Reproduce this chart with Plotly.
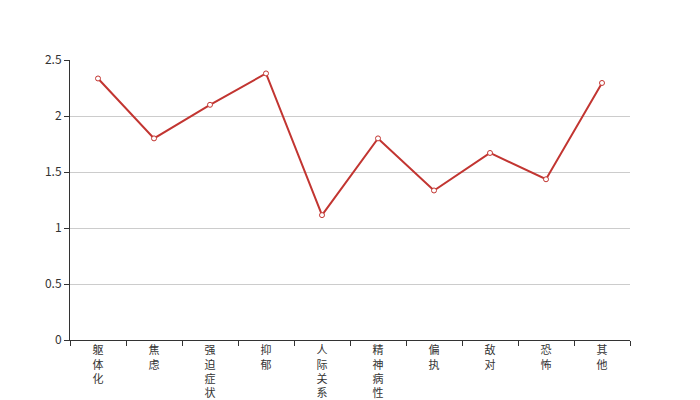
import plotly.graph_objects as go

categories = ["躯体化", "焦虑", "强迫症状", "抑郁", "人际关系", "精神病性", "偏执", "敌对", "恐怖", "其他"]
scores = [2.335, 1.80, 2.10, 2.38, 1.115, 1.80, 1.335, 1.67, 1.435, 2.295]

# vertical labels: one character per line
tick_text = ["<br>".join(list(c)) for c in categories]

fig = go.Figure()
fig.add_trace(
    go.Scatter(
        x=categories,
        y=scores,
        mode="lines+markers",
        line=dict(color="#c23531", width=2),
        marker=dict(symbol="circle", size=5, color="white", line=dict(color="#c23531", width=1)),
        showlegend=False,
        cliponaxis=False,
    )
)

# the page body has an 8px default margin, so margins are offset to keep
# the plot area at x 70..630, y 60..340 in the window
fig.update_layout(
    width=700,
    height=400,
    margin=dict(l=62, r=78, t=52, b=68),
    paper_bgcolor="white",
    plot_bgcolor="white",
    font=dict(family="Noto Sans CJK SC, sans-serif", size=12, color="#333"),
)
fig.update_xaxes(
    type="category",
    tickvals=categories,
    ticktext=tick_text,
    tickson="boundaries",
    ticks="outside",
    ticklen=5,
    tickcolor="#333",
    showline=True,
    linecolor="#333",
    linewidth=1,
    showgrid=False,
    tickfont=dict(size=11, color="#333"),
    automargin=False,
    range=[-0.5, 9.5],
)
fig.update_yaxes(
    range=[0, 2.5],
    dtick=0.5,
    ticks="outside",
    ticklen=5,
    tickcolor="#333",
    showline=True,
    linecolor="#333",
    linewidth=1,
    showgrid=True,
    gridcolor="#ccc",
    zeroline=False,
    tickfont=dict(size=12, color="#333"),
    automargin=False,
)

fig.write_html("out.html")
